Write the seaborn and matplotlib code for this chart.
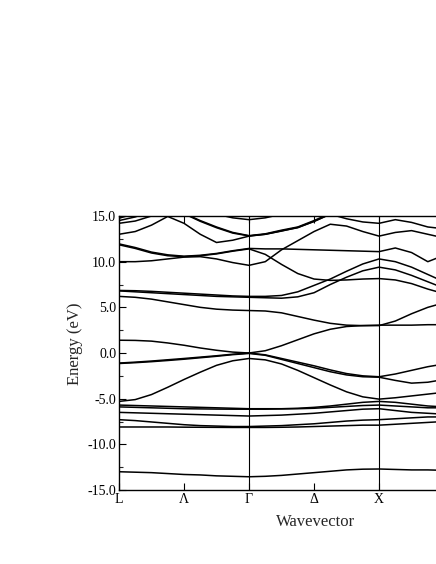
import numpy as np
import pandas as pd
import matplotlib
matplotlib.use("Agg")
import matplotlib.pyplot as plt
from matplotlib.ticker import MultipleLocator, FormatStrFormatter
import seaborn as sns

sns.set_style("ticks")
plt.rcParams["font.family"] = ["Liberation Serif", "DejaVu Serif"]
plt.rcParams["axes.unicode_minus"] = False

nan = np.nan

# k path: L=0, Lambda=0.5, Gamma=1, Delta=1.5, X=2 (sampled every 1/8)
kpts = [0, .125, .25, .375, .5, .625, .75, .875, 1, 1.125, 1.25, 1.375, 1.5,
        1.625, 1.75, 1.875, 2, 2.125, 2.25, 2.375, 2.5]
tick_pos = [0, 0.5, 1, 1.5, 2]
tick_lab = ["L", "Λ", "Γ", "Δ", "X"]
sym_lines = [1, 2]

# band energies (eV)
bands = {
    "s":   [-13.0, -13.05, -13.1, -13.2, -13.3, -13.35, -13.45, -13.5, -13.55, -13.5, -13.4, -13.25, -13.1, -12.95, -12.8, -12.72, -12.7, -12.75, -12.8, -12.8, -12.85],
    "d1":  [-5.7, -5.75, -5.8, -5.85, -5.9, -5.95, -6.0, -6.05, -6.1, -6.1, -6.1, -6.05, -5.95, -5.8, -5.6, -5.4, -5.3, -5.4, -5.6, -5.8, -5.9],
    "d2":  [-5.9, -5.95, -6.0, -6.05, -6.1, -6.12, -6.14, -6.15, -6.15, -6.15, -6.12, -6.1, -6.05, -5.95, -5.85, -5.75, -5.7, -5.8, -5.9, -6.0, -6.0],
    "d3":  [-6.5, -6.55, -6.6, -6.65, -6.7, -6.75, -6.8, -6.85, -6.9, -6.85, -6.8, -6.7, -6.6, -6.45, -6.3, -6.15, -6.1, -6.3, -6.5, -6.6, -6.7],
    "d4":  [-7.3, -7.4, -7.55, -7.7, -7.85, -7.95, -8.0, -8.05, -8.05, -8.0, -7.95, -7.85, -7.75, -7.6, -7.45, -7.35, -7.3, -7.2, -7.1, -7.0, -7.0],
    "d5":  [-8.1, -8.1, -8.1, -8.1, -8.12, -8.13, -8.14, -8.15, -8.15, -8.15, -8.13, -8.1, -8.05, -8.0, -7.95, -7.9, -7.9, -7.8, -7.7, -7.6, -7.5],
    "v1":  [-5.3, -5.1, -4.55, -3.75, -2.9, -2.1, -1.35, -0.85, -0.6, -0.75, -1.2, -1.9, -2.7, -3.5, -4.25, -4.8, -5.05, -4.9, -4.7, -4.5, -4.3],
    "v2":  [-1.1, -1.0, -0.88, -0.74, -0.6, -0.45, -0.3, -0.13, 0.0, -0.2, -0.6, -1.0, -1.4, -1.85, -2.25, -2.5, -2.6, -2.3, -1.9, -1.5, -1.2],
    "v3":  [-1.15, -1.06, -0.95, -0.82, -0.68, -0.52, -0.36, -0.18, -0.05, -0.25, -0.7, -1.15, -1.6, -2.05, -2.4, -2.6, -2.65, -3.0, -3.3, -3.2, -2.9],
    "v4":  [1.4, 1.38, 1.3, 1.1, 0.85, 0.55, 0.3, 0.1, 0.0, 0.25, 0.8, 1.45, 2.1, 2.6, 2.9, 3.0, 3.05, 3.05, 3.05, 3.1, 3.1],
    "c1":  [6.2, 6.1, 5.9, 5.6, 5.3, 5.0, 4.8, 4.7, 4.65, 4.6, 4.4, 4.0, 3.6, 3.25, 3.05, 3.0, 3.0, 3.5, 4.3, 5.0, 5.5],
    "c2":  [6.85, 6.82, 6.75, 6.65, 6.55, 6.45, 6.35, 6.25, 6.2, 6.2, 6.3, 6.7, 7.4, 8.1, 8.95, 9.75, 10.3, 10.0, 9.4, 8.6, 7.8],
    "c3":  [6.8, 6.7, 6.6, 6.5, 6.4, 6.3, 6.2, 6.15, 6.1, 6.05, 6.0, 6.15, 6.6, 7.5, 8.3, 9.0, 9.4, 9.1, 8.5, 7.8, 7.1],
    "e1a": [11.95, 11.55, 11.05, 10.75, 10.6, 10.7, 10.9, 11.2, 11.45, 11.4, 11.4, 11.35, 11.3, 11.25, 11.2, 11.15, 11.1, 11.5, 11.0, 10.0, 10.7],
    "e1b": [11.85, 11.45, 10.95, 10.65, 10.55, 10.65, 10.85, 11.15, 11.4, 10.8, 9.7, 8.7, 8.1, 7.95, 8.0, 8.1, 8.15, 8.0, 7.6, 7.0, 6.5],
    "e2":  [10.0, 10.0, 10.1, 10.3, 10.5, 10.55, 10.3, 9.9, 9.6, 10.0, 11.3, 12.3, 13.3, 14.1, 13.9, 13.3, 12.8, 13.2, 13.4, 13.0, 12.6],
    "a":   [13.0, 13.3, 14.0, 14.95, 14.2, 13.0, 12.1, 12.35, 12.8, 13.0, 13.35, 13.75, 14.4, 15.2, 16.0, nan, nan, nan, nan, nan, nan],
    "h1":  [nan, nan, nan, nan, 15.3, 14.5, 13.8, 13.2, 12.85, 13.05, 13.45, 13.8, 14.5, 15.3, 16.0, nan, nan, nan, nan, nan, nan],
    "h2":  [nan, nan, nan, nan, 15.25, 14.42, 13.72, 13.13, 12.82, 13.0, 13.38, 13.72, 14.42, 15.22, 16.0, nan, nan, nan, nan, nan, nan],
    "ug":  [nan, nan, nan, nan, nan, 15.8, 15.2, 14.8, 14.6, 14.8, 15.2, 15.8, nan, nan, nan, nan, nan, nan, nan, nan, nan],
    "ux":  [nan, nan, nan, nan, nan, nan, nan, nan, nan, nan, nan, nan, 16.0, 15.2, 14.7, 14.35, 14.2, 14.6, 14.3, 13.8, 13.6],
    "t1":  [14.75, 15.3, nan, nan, nan, nan, nan, nan, nan, nan, nan, nan, nan, nan, nan, nan, nan, nan, nan, nan, nan],
    "t2":  [14.5, 14.9, 15.5, nan, nan, nan, nan, nan, nan, nan, nan, nan, nan, nan, nan, nan, nan, nan, nan, nan, nan],
    "t3":  [14.2, 14.45, 15.0, 15.6, nan, nan, nan, nan, nan, nan, nan, nan, nan, nan, nan, nan, nan, nan, nan, nan, nan],
}

df = pd.concat([pd.DataFrame({"k": kpts, "E": v, "band": name})
                for name, v in bands.items()]).dropna()

fig = plt.figure(figsize=(4.36, 5.64), dpi=100)
ax = fig.add_axes([0.2729, 0.1312, 0.9037, 0.4858])

sns.lineplot(data=df, x="k", y="E", units="band", estimator=None, sort=False,
             color="black", lw=1.1, legend=False, ax=ax)
for xv in sym_lines:
    ax.axvline(xv, color="black", lw=0.8)

ax.set_xlim(0, 3.03)
ax.set_ylim(-15, 15)
ax.yaxis.set_major_locator(MultipleLocator(5))
ax.yaxis.set_minor_locator(MultipleLocator(2.5))
ax.yaxis.set_major_formatter(FormatStrFormatter("%.1f"))
ax.set_xticks(tick_pos)
ax.set_xticklabels(tick_lab)
ax.tick_params(direction="in", top=True, right=True, labelsize=10, pad=2,
               length=5, width=0.8, colors="black")
ax.tick_params(which="minor", direction="in", right=True, length=3, width=0.8)
for s in ax.spines.values():
    s.set_color("black"); s.set_linewidth(1.0)

ax.set_xlabel("Wavevector", fontsize=12)
ax.set_ylabel("Energy (eV)", fontsize=12)
ax.xaxis.set_label_coords(0.5, -0.088)
ax.yaxis.set_label_coords(-0.091, 0.533)

fig.savefig("out.png", dpi=100)
